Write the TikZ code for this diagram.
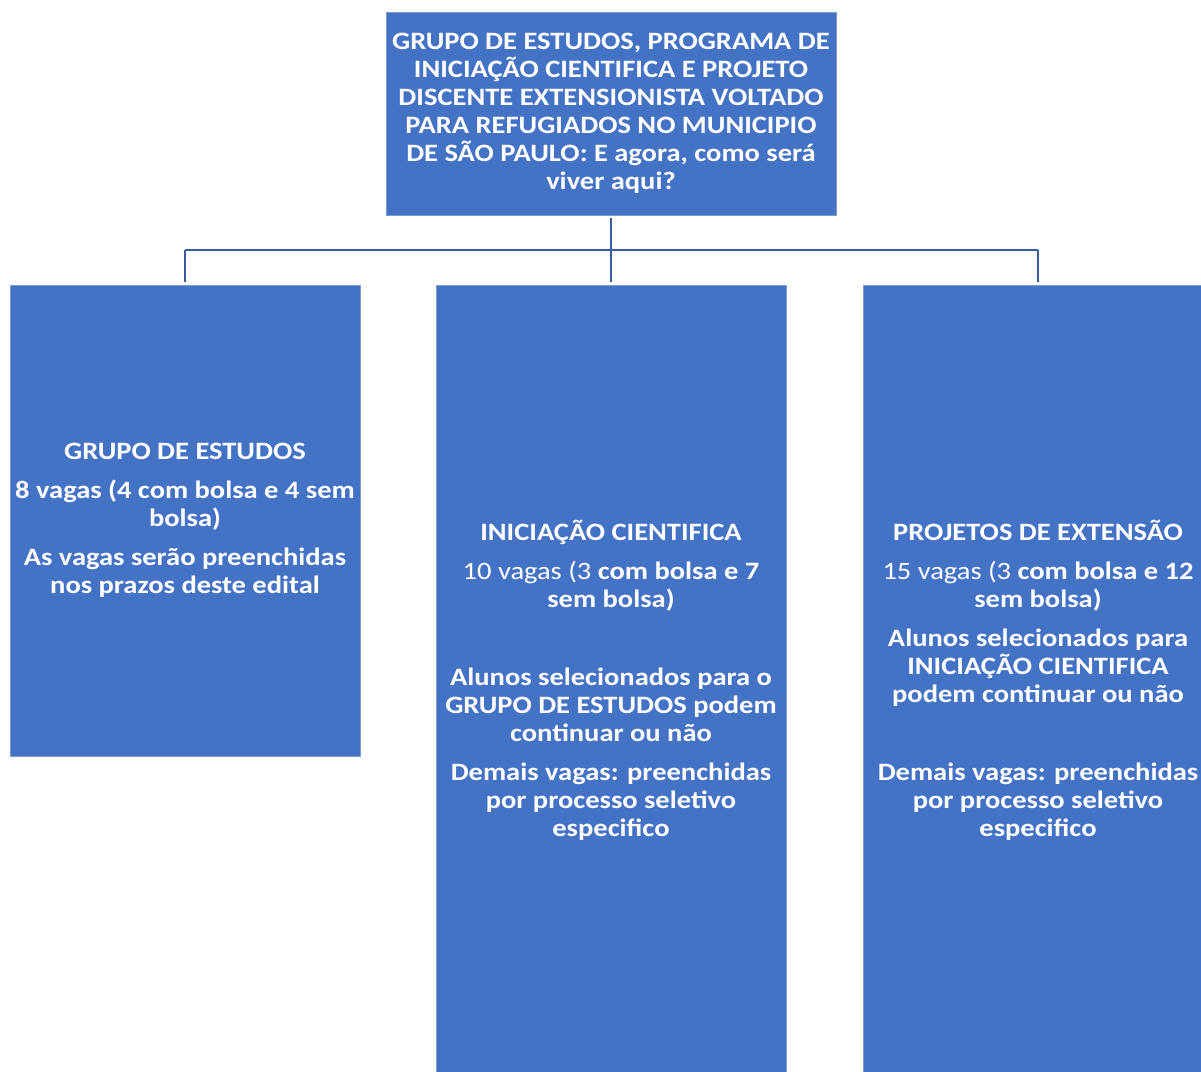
\documentclass[tikz,border=0pt]{standalone}
\usepackage{fontspec}
\setmainfont{Carlito}[FakeStretch=1.14]
\definecolor{boxblue}{HTML}{4472C4}
\definecolor{lineblue}{HTML}{3A5DA0}
\begin{document}
\begin{tikzpicture}[x=1pt,y=-1pt,
  card/.style={fill=boxblue, draw=boxblue!70!white, line width=0.8pt, text=white, align=center,
    inner sep=0pt, font=\fontsize{25}{28}\selectfont\bfseries},
  conn/.style={draw=lineblue, line width=2.6pt}]
\clip (0,0) rectangle (1201,1071);
\fill[white] (0,0) rectangle (1201,1071);
\node[card, minimum width=450pt, minimum height=203pt] (top) at (611,113.5)
  {GRUPO DE ESTUDOS, PROGRAMA DE\\INICIAÇÃO CIENTIFICA E PROJETO\\DISCENTE EXTENSIONISTA VOLTADO\\PARA REFUGIADOS NO MUNICIPIO\\DE SÃO PAULO: E agora, como será\\viver aqui?};
\node[card, minimum width=350pt, minimum height=471pt] (l) at (185,520.5)
  {GRUPO DE ESTUDOS\\[11pt]8 vagas (4 com bolsa e 4 sem\\bolsa)\\[11pt]As vagas serão preenchidas\\nos prazos deste edital};
\node[card, minimum width=350pt, minimum height=790pt] (m) at (611,680)
  {INICIAÇÃO CIENTIFICA\\[11pt]{\mdseries 10 vagas (3} com bolsa e 7\\sem bolsa)\\[11pt]\mbox{}\\[11pt]Alunos selecionados para o\\GRUPO DE ESTUDOS podem\\continuar ou não\\[11pt]Demais vagas: preenchidas\\por processo seletivo\\especifico};
\node[card, minimum width=350pt, minimum height=790pt] (r) at (1038,680)
  {PROJETOS DE EXTENSÃO\\[11pt]{\mdseries 15 vagas (3} com bolsa e 12\\sem bolsa)\\[11pt]Alunos selecionados para\\INICIAÇÃO CIENTIFICA\\podem continuar ou não\\[11pt]\mbox{}\\[11pt]Demais vagas: preenchidas\\por processo seletivo\\especifico};
\coordinate (bus) at (611,250);
\draw[conn] ([yshift=-3pt]top.south) -- (bus);
\draw[conn] (l.north |- bus) -- (r.north |- bus);
\draw[conn] (l.north |- bus) -- ([yshift=3pt]l.north);
\draw[conn] (m.north |- bus) -- ([yshift=3pt]m.north);
\draw[conn] (r.north |- bus) -- ([yshift=3pt]r.north);
\end{tikzpicture}
\end{document}
